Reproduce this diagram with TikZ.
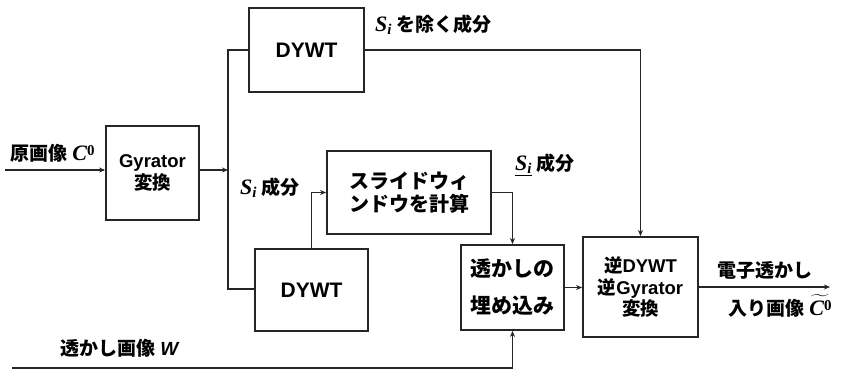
\documentclass[tikz,border=0pt]{standalone}
\usepackage{fontspec}
\usepackage{amsmath}
\setmainfont{Liberation Sans}
\newfontfamily\jp{Noto Sans CJK JP}
\newfontfamily\ser{Liberation Serif}
\newcommand{\varS}{{\fontsize{22}{22}\selectfont\ser\bfseries\itshape S\raisebox{-0.3ex}{\fontsize{15}{15}\selectfont\ser\itshape i}}}
\newcommand{\varC}{{\fontsize{22}{22}\selectfont\ser\bfseries\itshape C\raisebox{0.5ex}{\fontsize{15}{15}\selectfont\ser\bfseries\upshape 0}}}
\usetikzlibrary{arrows.meta}
\begin{document}
\begin{tikzpicture}[x=1pt,y=-1pt,
  blk/.style={draw=black!85, line width=1.8pt, inner sep=0pt, align=center, font=\bfseries\fontsize{18.5}{22}\selectfont},
  wire/.style={line width=1.3pt, draw=black!85},
  arr/.style={wire, -{Stealth[length=6pt,width=5pt]}},
  lbl/.style={inner sep=0pt, font=\bfseries\fontsize{19}{22}\selectfont, anchor=west}]
\useasboundingbox (0,0) rectangle (844,371);
% blocks
\node[blk, minimum width=93pt, minimum height=94pt] (gyr) at (152.5,173) {Gyrator\\{\jp 変換}};
\node[blk, minimum width=115pt, minimum height=84pt, font=\bfseries\fontsize{21}{24}\selectfont] (dywt1) at (306.5,50) {DYWT};
\node[blk, minimum width=164pt, minimum height=83pt, font=\bfseries\fontsize{20}{23}\selectfont] (slide) at (409,192.5) {{\jp スライドウィ}\\{\jp ンドウを計算}};
\node[blk, minimum width=113pt, minimum height=82pt, font=\bfseries\fontsize{21}{24}\selectfont] (dywt2) at (311.5,290) {DYWT};
\node[blk, minimum width=103pt, minimum height=85pt, font=\bfseries\fontsize{21}{37}\selectfont] (emb) at (512.5,287.5) {{\jp 透かしの}\\{\jp 埋め込み}};
\node[blk, minimum width=115pt, minimum height=100pt, font=\bfseries\fontsize{18.5}{21.5}\selectfont] (inv) at (640.5,287) {{\jp 逆}DYWT\\{\jp 逆}Gyrator\\{\jp 変換}};
% coordinates
\coordinate (in) at (5,170);
\coordinate (mid) at (228,170);
\coordinate (jt) at (228,50);
\coordinate (jb) at (228,289);
\coordinate (out) at (830,287);
\coordinate (win) at (12,368);
% connectors
\draw[arr] (in) -- (in -| gyr.west);
\draw[arr] (mid -| gyr.east) -- (mid);
\draw[wire] (dywt1.west) -- (jt) -- (jb) -- (jb -| dywt2.west);
\draw[arr] (dywt1.east) -| (inv.north);
\draw[arr] (dywt2.north) |- (slide.west);
\draw[arr] (slide.east) -| (emb.north);
\draw[arr] (emb.east) -- (emb.east -| inv.west);
\draw[arr] (inv.east |- out) -- (out);
\draw[arr] (win) -| (emb.south);
% labels
\node[lbl] (l1) at (10,153) {{\jp 原画像} \varC};
\node[lbl] (l2) at (375,25) {\varS\ {\jp を除く成分}};
\node[lbl] (l3) at (240,188) {\varS\ {\jp 成分}};
\node[lbl] (l4) at (515,165) {\underline{\varS}\ {\jp 成分}};
\node[lbl] (l5) at (717,270) {{\jp 電子透かし}};
\node[lbl] (l6) at (728,306) {{\jp 入り画像}\ $\widetilde{\hbox{\varC}}$};
\node[lbl] (l7) at (60,348) {{\jp 透かし画像} \textit{W}};
\end{tikzpicture}
\end{document}
